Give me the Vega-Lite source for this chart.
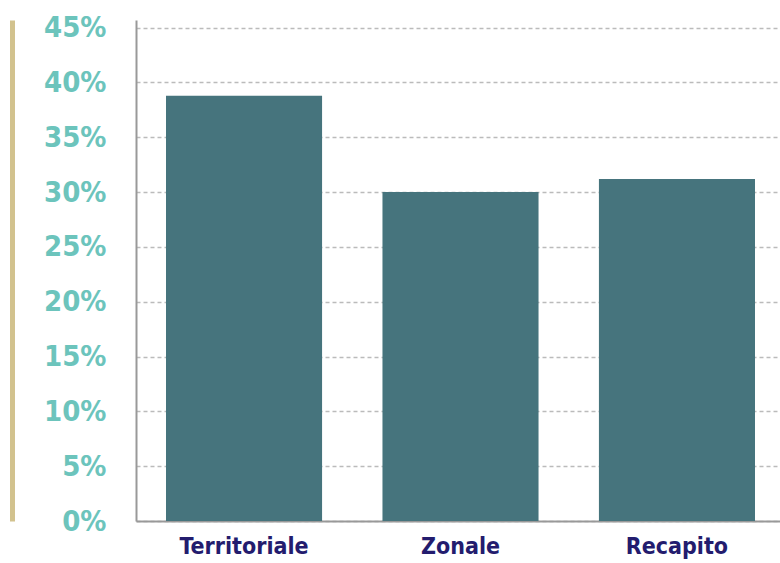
{
  "$schema": "https://vega.github.io/schema/vega-lite/v6.json",
  "width": 644,
  "height": 501,
  "autosize": {"type": "none"},
  "padding": {"left": 136, "top": 20, "right": 0, "bottom": 42},
  "background": "white",
  "config": {"view": {"stroke": null}},
  "data": {"values": [
    {"categoria": "Territoriale", "valore": 38.8},
    {"categoria": "Zonale", "valore": 30.0},
    {"categoria": "Recapito", "valore": 31.2}
  ]},
  "encoding": {
    "x": {"field": "categoria", "type": "nominal", "sort": null,
      "scale": {"paddingInner": 0.279, "paddingOuter": 0.1386, "range": [0, 649]},
      "axis": {"title": null, "labelAngle": 0, "ticks": false, "domainColor": "#999999", "domainWidth": 2,
        "labelFont": "DejaVu Sans Condensed", "labelFontWeight": "bold", "labelFontSize": 23,
        "labelColor": "#231C6E", "labelPadding": 14}},
    "y": {"field": "valore", "type": "quantitative",
      "scale": {"domain": [0, 45.7], "nice": false, "zero": true}}
  },
  "layer": [
    {
      "mark": {"type": "bar", "color": "#46747D"},
      "encoding": {
        "y": {"field": "valore", "type": "quantitative",
          "scale": {"domain": [0, 45.7], "nice": false},
          "axis": {"title": null, "values": [0,5,10,15,20,25,30,35,40,45], "labelExpr": "datum.value + '%'",
            "ticks": false, "domainColor": "#999999", "domainWidth": 2,
            "grid": true, "gridColor": "#BBBBBB", "gridDash": [4, 3], "gridWidth": 1.5,
            "labelFont": "DejaVu Sans Condensed", "labelFontWeight": "bold", "labelFontSize": 29,
            "labelColor": "#6CC4BC", "labelPadding": 30}}
      }
    },
    {
      "mark": {"type": "tick", "opacity": 0},
      "encoding": {
        "y": {"field": "valore", "type": "quantitative",
          "scale": {"domain": [0, 45.7], "nice": false},
          "axis": {"title": null, "orient": "left", "labels": false, "ticks": false, "grid": false,
            "domainColor": "#D2C28E", "domainWidth": 5, "offset": 124}}
      }
    }
  ],
  "resolve": {"axis": {"y": "independent"}}
}
